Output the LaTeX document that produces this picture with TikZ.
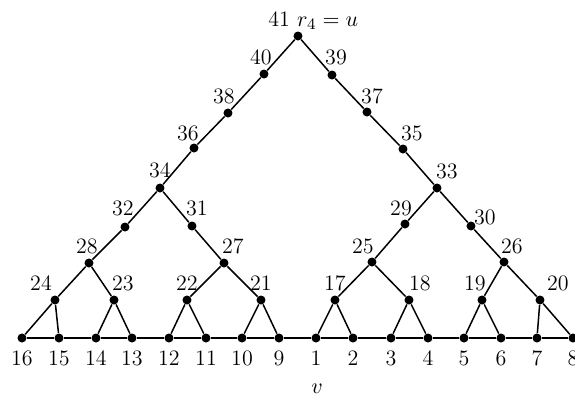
\documentclass[tikz,border=0pt]{standalone}
\usetikzlibrary{positioning}

\begin{document}
\begin{tikzpicture}[
        x=0.5pt, y=-0.5pt,
        font=\fontsize{11}{13}\selectfont,
        vertex/.style={circle, fill=black, inner sep=0pt, minimum size=4.5pt},
        num/.style={inner sep=0pt},
        edge/.style={line width=0.75pt}
    ]
    \useasboundingbox (0,0) rectangle (575,398);

    % leaves on the base line
    \foreach \n/\x in {16/22,15/59,14/96,13/132,12/169,11/206,10/242,9/279,
                       1/316,2/353,3/391,4/428,5/464,6/501,7/537,8/573}
      {\node (n\n) [vertex] at (\x,338) {};
       \node (t\n) [num] at (\x,358) {\n};}

    % inner vertices
    \foreach \n/\x/\y in {24/55/300,23/114/300,22/187/300,21/261/300,
                          17/335/300,18/409/300,19/482/300,20/540/300,
                          28/89/263,27/224/263,25/372/262,26/504/262,
                          32/125/227,31/192/226,29/405/224,30/471/226,
                          34/160/188,33/437/188,36/194/148,35/403/149,
                          38/228/113,37/367/112,40/264/74,39/332/75,41/298/36}
      \node (n\n) [vertex] at (\x,\y) {};

    % their numbers
    \foreach \n/\x/\y in {24/41/283,23/123/283,22/187/283,21/261/283,
                          17/335/283,18/420/283,19/475/283,20/558/283,
                          28/87/246,27/233/246,25/363/246,26/512/246,
                          32/123/208,31/197/208,29/401/208,30/485/217,
                          34/160/170,33/447/171,36/188/133,35/412/133,
                          38/224/96,37/372/96,40/261/57,39/336/57}
      \node (t\n) [num] at (\x,\y) {\n};

    \node (t41) [num, anchor=base west] at (268,26) {41 $r_4=u$};
    \node (tv) [num] at (317,389) {$v$};

    % edges
    \foreach \a/\b in {16/15,15/14,14/13,13/12,12/11,11/10,10/9,9/1,
                       1/2,2/3,3/4,4/5,5/6,6/7,7/8,
                       41/40,40/38,38/36,36/34,34/32,32/28,28/24,24/16,24/15,
                       28/23,23/14,23/13,34/31,31/27,27/22,22/12,22/11,
                       27/21,21/10,21/9,
                       41/39,39/37,37/35,35/33,33/29,29/25,25/17,17/1,17/2,
                       25/18,18/3,18/4,33/30,30/26,26/19,19/5,19/6,
                       26/20,20/7,20/8}
      \draw [edge] (n\a) -- (n\b);

\end{tikzpicture}
\end{document}
